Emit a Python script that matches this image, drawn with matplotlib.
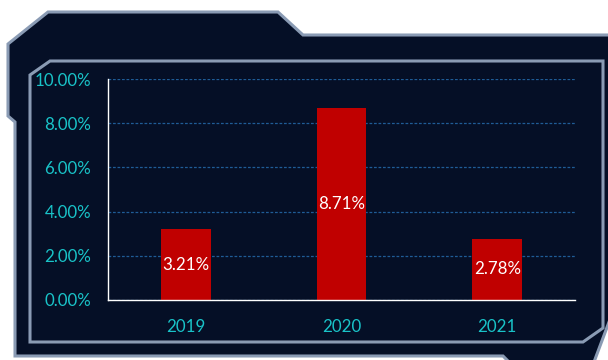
import matplotlib
matplotlib.use("Agg")
import matplotlib.pyplot as plt
from matplotlib.patches import Polygon

# Data
years = ["2019", "2020", "2021"]
rates = [3.21, 8.71, 2.78]          # percent
y_ticks = [0, 2, 4, 6, 8, 10]

BG = "#050f26"
EDGE = "#8a9bb4"
CYAN = "#19c3c8"
BAR = "#c00000"
GRID = "#1f5c96"

plt.rcParams["font.family"] = ["Lato", "DejaVu Sans"]

W, H = 608, 360
fig = plt.figure(figsize=(W / 100, H / 100), dpi=100, facecolor="white")

# Decorative panel frames drawn in pixel space
deco = fig.add_axes([0, 0, 1, 1])
deco.set_xlim(0, W)
deco.set_ylim(H, 0)
deco.axis("off")

outer = [(48, 12), (278, 12), (303, 35), (650, 35), (650, 280), (621, 290),
         (588, 378), (525, 378), (503, 356), (15, 356), (15, 122), (8, 116),
         (8, 44)]
inner = [(50, 61), (603, 61), (603, 328), (583, 342), (30, 342), (30, 75)]
deco.add_patch(Polygon(outer, closed=True, facecolor=BG, edgecolor=EDGE,
                       linewidth=2.2, joinstyle="miter"))
deco.add_patch(Polygon(inner, closed=True, facecolor=BG, edgecolor=EDGE,
                       linewidth=2.2, joinstyle="miter"))

# Chart area
ax = fig.add_axes([108 / W, (H - 300) / H, 467 / W, 221 / H])
ax.set_facecolor("none")
x = list(range(len(years)))
bars = ax.bar(x, rates, width=0.32, color=BAR, zorder=3)
ax.set_xlim(-0.5, len(years) - 0.5)
ax.set_ylim(0, 10)
ax.set_yticks(y_ticks)
ax.set_yticklabels([f"{v:.2f}%" for v in y_ticks])
ax.set_xticks(x)
ax.set_xticklabels(years)

ax.grid(axis="y", color=GRID, linestyle=(0, (2.2, 1.4)), linewidth=0.9, zorder=1)
ax.set_axisbelow(True)

for side in ("top", "right"):
    ax.spines[side].set_visible(False)
for side in ("left", "bottom"):
    ax.spines[side].set_color("white")
    ax.spines[side].set_linewidth(1.0)
    ax.spines[side].set_zorder(4)

ax.tick_params(axis="y", length=0, pad=12, labelsize=12.2, labelcolor=CYAN)
ax.tick_params(axis="x", length=0, pad=13.5, labelsize=12.2, labelcolor=CYAN)

for rect, v in zip(bars, rates):
    ax.text(rect.get_x() + rect.get_width() / 2, v / 2, f"{v:.2f}%",
            ha="center", va="center", color="white", fontsize=12.2, zorder=5)

fig.savefig("out.png", dpi=100, facecolor="white")
